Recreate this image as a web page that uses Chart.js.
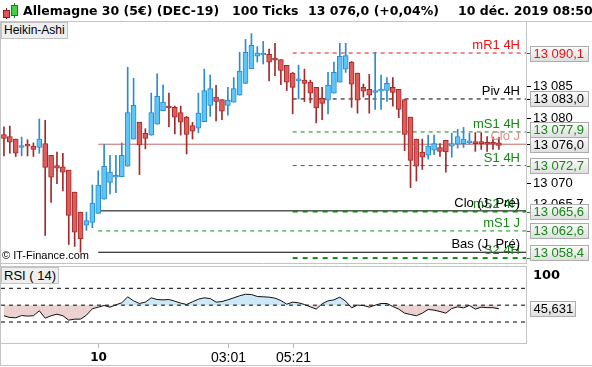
<!DOCTYPE html>
<html>
<head>
<meta charset="utf-8">
<title>Allemagne 30 - Heikin-Ashi</title>
<script src="https://cdn.jsdelivr.net/npm/chart.js@4.4.1/dist/chart.umd.min.js"></script>
<style>
  html, body { margin: 0; padding: 0; background: #fff; }
  #wrap { position: relative; width: 592px; height: 367px; overflow: hidden; font-family: 'Liberation Sans', Arial, sans-serif; }
  canvas { position: absolute; left: 0; top: 0; }
  .hd { position: absolute; top: 3px; line-height: 16px; font: bold 12.5px 'DejaVu Sans', sans-serif; color: #000; white-space: nowrap; }
  .tag { position: absolute; left: 1px; height: 15px; line-height: 15px; padding: 0 2px; border: 1px solid #c2c2c2; background: #efefef; color: #000; white-space: nowrap; }
  #copy { position: absolute; left: 2px; top: 249px; font-size: 11px; line-height: 13px; color: #000; }
  #icon { position: absolute; left: 2px; top: 2px; }
</style>
</head>
<body>
<div id="wrap">
  <canvas id="main" width="592" height="367"></canvas>
  <canvas id="rsi" width="592" height="367"></canvas>

  <svg id="icon" width="18" height="18" viewBox="0 0 18 18">
    <line x1="4.5" y1="6" x2="4.5" y2="17" stroke="#8a2020" />
    <rect x="1.5" y="8.5" width="6" height="7" fill="#e05555" stroke="#8a2020" />
    <line x1="12.5" y1="1" x2="12.5" y2="16" stroke="#207a20" />
    <rect x="9.5" y="3.5" width="6" height="10" fill="#44d044" stroke="#207a20" />
  </svg>
  <div class="hd" style="left:23px">Allemagne 30 (5€) (DEC-19)</div>
  <div class="hd" style="left:232px">100 Ticks</div>
  <div class="hd" style="left:308px">13 076,0 (+0,04%)</div>
  <div class="hd" style="left:458px">10 déc. 2019 08:50</div>

  <div class="tag" style="top:22px; font-size:12px;">Heikin-Ashi</div>
  <div class="tag" style="top:267px; font-size:13px;">RSI ( 14)</div>
  <div id="copy">© IT-Finance.com</div>
</div>

<script>
// Heikin-Ashi candles, 100 ticks each
const openP  = [13077.5, 13077.2, 13076.8, 13075.5, 13075.8, 13075.7, 13075.5, 13076.1, 13074.3, 13072.7,
                13072.5, 13072.0, 13068.6, 13065.5, 13063.5, 13063.9, 13065.3, 13067.5, 13070.1, 13070.9,
                13071.0, 13072.6, 13076.8, 13079.4, 13077.7, 13077.4, 13079.1, 13081.2, 13081.9, 13081.7,
                13080.9, 13080.2, 13078.9, 13078.5, 13079.5, 13082.0, 13083.3, 13082.9, 13082.0, 13082.5,
                13083.6, 13085.4, 13087.7, 13089.6, 13089.8, 13089.9, 13089.3, 13089.1, 13088.2, 13087.0,
                13085.8, 13085.9, 13085.6, 13084.8, 13083.1, 13082.8, 13083.9, 13085.6, 13087.6, 13088.7,
                13087.0, 13084.8, 13084.5, 13084.0, 13084.2, 13084.3, 13084.8, 13084.5, 13082.9, 13080.2,
                13076.8, 13074.8, 13074.3, 13075.1, 13075.5, 13076.6, 13075.7, 13076.0, 13076.1, 13076.2,
                13076.2, 13076.2, 13076.1, 13076.1, 13076.2];
const highP  = [13078.7, 13078.8, 13076.8, 13077.1, 13076.7, 13076.2, 13079.9, 13079.7, 13074.3, 13074.8,
                13074.6, 13072.0, 13068.6, 13065.5, 13065.5, 13069.7, 13071.9, 13076.0, 13074.3, 13074.3,
                13076.2, 13087.9, 13086.2, 13079.4, 13078.4, 13083.9, 13086.9, 13085.2, 13083.9, 13081.9,
                13081.9, 13080.3, 13079.4, 13083.9, 13087.6, 13086.7, 13085.1, 13082.9, 13084.8, 13086.3,
                13090.2, 13092.2, 13093.1, 13091.1, 13091.9, 13090.7, 13091.6, 13089.1, 13088.2, 13087.1,
                13088.2, 13087.6, 13085.9, 13084.8, 13084.8, 13087.1, 13088.7, 13091.6, 13091.6, 13088.8,
                13087.0, 13085.3, 13086.8, 13090.2, 13086.7, 13086.3, 13086.3, 13084.5, 13082.9, 13080.2,
                13076.8, 13076.8, 13077.4, 13077.4, 13076.1, 13076.6, 13077.7, 13078.3, 13078.6, 13077.7,
                13077.8, 13077.8, 13077.2, 13077.1, 13077.1];
const lowP   = [13074.2, 13074.6, 13074.1, 13074.2, 13074.2, 13074.1, 13074.6, 13061.9, 13067.0, 13069.9,
                13068.8, 13060.5, 13060.2, 13059.3, 13062.7, 13063.1, 13065.3, 13067.5, 13068.3, 13068.5,
                13071.0, 13072.6, 13076.8, 13071.3, 13075.3, 13077.4, 13079.1, 13081.2, 13078.7, 13077.6,
                13077.4, 13074.5, 13076.8, 13077.8, 13079.5, 13080.3, 13079.6, 13079.8, 13080.5, 13082.5,
                13083.6, 13085.4, 13087.7, 13088.7, 13088.4, 13085.8, 13086.6, 13085.2, 13084.3, 13080.7,
                13083.0, 13082.6, 13082.4, 13079.3, 13079.8, 13080.7, 13083.9, 13085.6, 13087.1, 13081.7,
                13080.8, 13083.3, 13080.8, 13081.4, 13081.4, 13082.6, 13081.9, 13080.1, 13075.0, 13069.3,
                13070.3, 13072.1, 13073.7, 13074.4, 13074.1, 13071.7, 13074.0, 13075.4, 13075.5, 13076.0,
                13074.9, 13075.2, 13074.9, 13075.2, 13075.2];
const closeP = [13076.9, 13076.3, 13074.6, 13075.6, 13075.7, 13075.2, 13076.8, 13072.4, 13070.9, 13072.3,
                13071.7, 13065.0, 13062.4, 13061.4, 13064.2, 13066.9, 13069.7, 13072.6, 13071.7, 13071.2,
                13074.3, 13080.9, 13082.0, 13075.9, 13076.9, 13080.9, 13083.4, 13082.5, 13081.6, 13080.2,
                13079.4, 13077.5, 13078.0, 13080.8, 13084.3, 13084.6, 13082.6, 13081.1, 13082.8, 13084.6,
                13087.3, 13090.2, 13091.3, 13090.1, 13089.9, 13088.7, 13089.0, 13087.4, 13085.6, 13084.8,
                13085.9, 13085.4, 13083.9, 13081.6, 13082.3, 13085.1, 13087.1, 13089.6, 13089.7, 13085.3,
                13082.8, 13084.2, 13083.6, 13084.3, 13084.5, 13085.4, 13084.0, 13081.4, 13077.5, 13073.5,
                13072.6, 13074.0, 13075.7, 13076.1, 13074.9, 13074.8, 13076.1, 13077.2, 13076.8, 13076.3,
                13076.1, 13076.1, 13076.0, 13076.0, 13075.8];

// RSI (14)
const rsiVals = [37.4, 35.4, 35.0, 37.7, 37.0, 37.4, 43.3, 34.6, 37.4, 39.3,
                 37.4, 32.2, 33.4, 33.4, 38.1, 45.7, 47.6, 49.6, 47.6, 50.4,
                 52.8, 59.9, 55.1, 52.0, 53.6, 58.7, 56.7, 56.3, 56.7, 54.7,
                 52.4, 50.8, 54.0, 57.1, 58.7, 57.9, 53.6, 54.3, 56.3, 58.7,
                 61.1, 63.0, 62.6, 60.3, 59.9, 59.5, 58.3, 55.5, 51.2, 53.6,
                 52.8, 50.8, 48.0, 45.3, 51.6, 55.1, 56.3, 59.5, 54.7, 46.8,
                 50.0, 49.6, 47.6, 50.0, 52.0, 52.0, 48.4, 45.3, 40.5, 38.9,
                 37.4, 40.5, 44.9, 44.1, 42.5, 40.5, 46.0, 48.0, 46.8, 49.6,
                 45.3, 47.6, 47.0, 47.0, 45.631];
const rsiLevels = [70, 50, 30];
const rsiTopLabel = '100';

// pivot levels (4H from candle 49, daily from candle 16)
const levelNames  = ['mR1 4H', 'Piv 4H', 'mS1 4H', 'S1 4H', 'mS2 4H', 'S2 4H', 'Clo J', 'Clo (J, Pré)', 'mS1 J', 'Bas (J, Pré)'];
const levelValues = [13090.1, 13083.0, 13077.9, 13072.7, 13065.6, 13058.4, 13076.0, 13065.7, 13062.6, 13059.3];
const levelStart  = [49, 49, 49, 49, 49, 49, 16, 16, 16, 16];

// right axis
const priceTicks = [13085, 13080, 13070];
const boxValues  = [13090.1, 13083.0, 13077.9, 13076.0, 13072.7, 13065.6, 13062.6, 13058.4];
const hiddenTick = 13065.7;

// time axis
const timeIdx    = [16, 38, 49];
const timeLabels = ['10', '03:01', '05:21'];

const X_MIN = -0.5, X_MAX = 88.6;
const Y_MIN = 13057.64, Y_MAX = 13095.05;
const RSI_MIN = 5.07, RSI_MAX = 95.3;

const UP_FILL = '#5cc6f6', UP_LINE = '#2a8bd2';
const DN_FILL = '#de5c5c', DN_LINE = '#a42a2a';
const RED = '#ee1111', GREEN = '#138a13', BLACK = '#000000', BROWN = '#bf6a6a';

const levelStyle = {
  'mR1 4H':       { color: RED,   dash: [4, 4], width: 1, text: RED },
  'Piv 4H':       { color: BLACK, dash: [4, 4], width: 1, text: BLACK },
  'mS1 4H':       { color: GREEN, dash: [4, 4], width: 1, text: GREEN },
  'S1 4H':        { color: GREEN, dash: [4, 4], width: 1, text: GREEN },
  'mS2 4H':       { color: GREEN, dash: [5, 5], width: 2, text: GREEN },
  'S2 4H':        { color: GREEN, dash: [5, 5], width: 2, text: GREEN },
  'Clo J':        { color: BROWN, dash: [],     width: 1, text: '#e58a8a' },
  'Clo (J, Pré)': { color: BLACK, dash: [],     width: 1, text: BLACK },
  'mS1 J':        { color: GREEN, dash: [4, 4], width: 1, text: GREEN },
  'Bas (J, Pré)': { color: BLACK, dash: [],     width: 1, text: BLACK },
};
const boxColors = [RED, BLACK, GREEN, BLACK, GREEN, GREEN, GREEN, GREEN];

function fr(v, d) {
  const parts = v.toFixed(d).split('.');
  const head = parts[0].replace(/\B(?=(\d{3})+(?!\d))/g, ' ');
  return d ? head + ',' + parts[1] : head;
}

function priceBox(ctx, x, cy, w, text, color) {
  const h = 15;
  const top = Math.round(cy - h / 2) + 0.5;
  const g = ctx.createLinearGradient(0, top, 0, top + h);
  g.addColorStop(0, '#fbfbfb');
  g.addColorStop(1, '#dedede');
  ctx.fillStyle = g;
  ctx.fillRect(x, top, w, h);
  ctx.strokeStyle = '#adadad';
  ctx.strokeRect(x, top, w, h);
  ctx.fillStyle = color;
  ctx.textAlign = 'left';
  ctx.textBaseline = 'middle';
  ctx.fillText(text, x + 3, top + h / 2 + 0.5);
}

const idx = openP.map((_, i) => i);
const isUp = idx.map(i => closeP[i] >= openP[i]);

const levelSets = levelNames.map((name, k) => ({
  type: 'line',
  data: [{ x: levelStart[k], y: levelValues[k] }, { x: X_MAX, y: levelValues[k] }],
  borderColor: levelStyle[name].color,
  borderWidth: levelStyle[name].width,
  borderDash: levelStyle[name].dash,
  pointRadius: 0,
  order: 3,
}));

const mainDeco = {
  id: 'mainDeco',
  afterDraw(chart) {
    const ctx = chart.ctx, ys = chart.scales.y, a = chart.chartArea;
    ctx.save();
    ctx.lineWidth = 1;
    ctx.strokeStyle = '#c4c4c4';
    ctx.beginPath();
    ctx.moveTo(0, 21.5); ctx.lineTo(592, 21.5);
    ctx.moveTo(0.5, 21); ctx.lineTo(0.5, 366);
    ctx.moveTo(a.right + 0.5, 21); ctx.lineTo(a.right + 0.5, a.bottom);
    ctx.moveTo(0, a.bottom + 0.5); ctx.lineTo(a.right + 1, a.bottom + 0.5);
    ctx.moveTo(0, 365.5); ctx.lineTo(592, 365.5);
    ctx.stroke();

    // level names inside the plot
    ctx.font = '13px "Liberation Sans"';
    ctx.textAlign = 'right';
    ctx.textBaseline = 'bottom';
    levelNames.forEach((name, k) => {
      ctx.fillStyle = levelStyle[name].text;
      ctx.fillText(name, a.right - 6, ys.getPixelForValue(levelValues[k]) - 1);
    });

    // plain ticks
    ctx.textAlign = 'left';
    ctx.textBaseline = 'middle';
    ctx.fillStyle = '#000';
    priceTicks.forEach(v => {
      const py = Math.round(ys.getPixelForValue(v));
      ctx.fillRect(a.right + 1, py, 4, 1);
      ctx.fillText(fr(v, 0), a.right + 7, py + 0.5);
    });
    ctx.fillText(fr(hiddenTick, 1), a.right + 7, ys.getPixelForValue(hiddenTick) - 6);

    // value boxes, pushed apart from the bottom up
    const H = 15;
    const pos = boxValues.map(v => ys.getPixelForValue(v));
    const ord = pos.map((_, i) => i).sort((p, q) => pos[q] - pos[p]);
    let limit = a.bottom - 3 - H / 2;
    ord.forEach(i => {
      pos[i] = Math.min(pos[i], limit);
      limit = pos[i] - H;
    });
    boxValues.forEach((v, i) => {
      const ly = Math.round(ys.getPixelForValue(v));
      ctx.fillStyle = boxColors[i];
      ctx.fillRect(a.right + 1, ly, 3, 1);
      priceBox(ctx, 530.5, pos[i], 58, fr(v, 1), boxColors[i]);
    });
    ctx.restore();
  }
};

new Chart(document.getElementById('main'), {
  type: 'bar',
  data: {
    datasets: [
      {
        label: 'mèches',
        data: idx.map(i => ({ x: i, y: [lowP[i], highP[i]] })),
        backgroundColor: idx.map(i => isUp[i] ? UP_LINE : DN_LINE),
        barThickness: 1,
        grouped: false,
        order: 2,
      },
      {
        label: 'corps',
        data: idx.map(i => ({ x: i, y: [openP[i], closeP[i]] })),
        backgroundColor: idx.map(i => isUp[i] ? UP_FILL : DN_FILL),
        borderColor: idx.map(i => isUp[i] ? UP_LINE : DN_LINE),
        borderWidth: 1,
        borderSkipped: false,
        barThickness: 5,
        minBarLength: 2,
        grouped: false,
        order: 1,
      },
      ...levelSets,
    ],
  },
  options: {
    responsive: false,
    animation: false,
    devicePixelRatio: 1,
    layout: { padding: { left: 1, top: 21, right: 66, bottom: 104 } },
    scales: {
      x: { type: 'linear', min: X_MIN, max: X_MAX, offset: false, display: false },
      y: { min: Y_MIN, max: Y_MAX, display: false },
    },
    plugins: { legend: { display: false }, tooltip: { enabled: false } },
  },
  plugins: [mainDeco],
});

const rsiDeco = {
  id: 'rsiDeco',
  afterDraw(chart) {
    const ctx = chart.ctx, xs = chart.scales.x, ys = chart.scales.y, a = chart.chartArea;
    ctx.save();
    ctx.strokeStyle = '#c4c4c4';
    ctx.lineWidth = 1;
    ctx.strokeRect(0.5, a.top - 0.5, a.right, a.bottom - a.top + 1);

    ctx.font = 'bold 13px "DejaVu Sans"';
    ctx.fillStyle = '#000';
    ctx.textAlign = 'left';
    ctx.textBaseline = 'middle';
    ctx.fillText(rsiTopLabel, a.right + 7, a.top + 9);

    ctx.font = '13px "Liberation Sans"';
    const last = rsiVals[rsiVals.length - 1];
    priceBox(ctx, 530.5, ys.getPixelForValue(last), 45, String(last).replace('.', ','), '#000');

    // time axis
    timeIdx.forEach((t, k) => {
      const px = Math.round(xs.getPixelForValue(t)) + 0.5;
      ctx.strokeStyle = '#b8b8b8';
      ctx.beginPath();
      ctx.moveTo(px, a.bottom + 1); ctx.lineTo(px, a.bottom + 5);
      ctx.stroke();
      ctx.fillStyle = '#000';
      ctx.textAlign = 'center';
      ctx.font = k === 0 ? 'bold 12px "DejaVu Sans"' : '14px "Liberation Sans"';
      ctx.fillText(timeLabels[k], px, 358);
    });
    ctx.restore();
  }
};

new Chart(document.getElementById('rsi'), {
  type: 'line',
  data: {
    datasets: [
      {
        label: 'RSI',
        data: idx.map(i => ({ x: i, y: rsiVals[i] })),
        borderColor: '#111',
        borderWidth: 1,
        pointRadius: 0,
        tension: 0,
        fill: { target: { value: 50 }, above: '#cde9f8', below: '#ecd1d1' },
        order: 1,
      },
      ...rsiLevels.map(v => ({
        label: 'niveau ' + v,
        data: [{ x: X_MIN, y: v }, { x: X_MAX, y: v }],
        borderColor: '#000',
        borderWidth: 1,
        borderDash: [4, 4],
        pointRadius: 0,
        fill: false,
        order: 2,
      })),
    ],
  },
  options: {
    responsive: false,
    animation: false,
    devicePixelRatio: 1,
    layout: { padding: { left: 1, top: 267, right: 66, bottom: 24 } },
    scales: {
      x: { type: 'linear', min: X_MIN, max: X_MAX, display: false },
      y: { min: RSI_MIN, max: RSI_MAX, display: false },
    },
    plugins: {
      legend: { display: false },
      tooltip: { enabled: false },
      filler: { drawTime: 'beforeDatasetsDraw' },
    },
  },
  plugins: [rsiDeco],
});
</script>
</body>
</html>
